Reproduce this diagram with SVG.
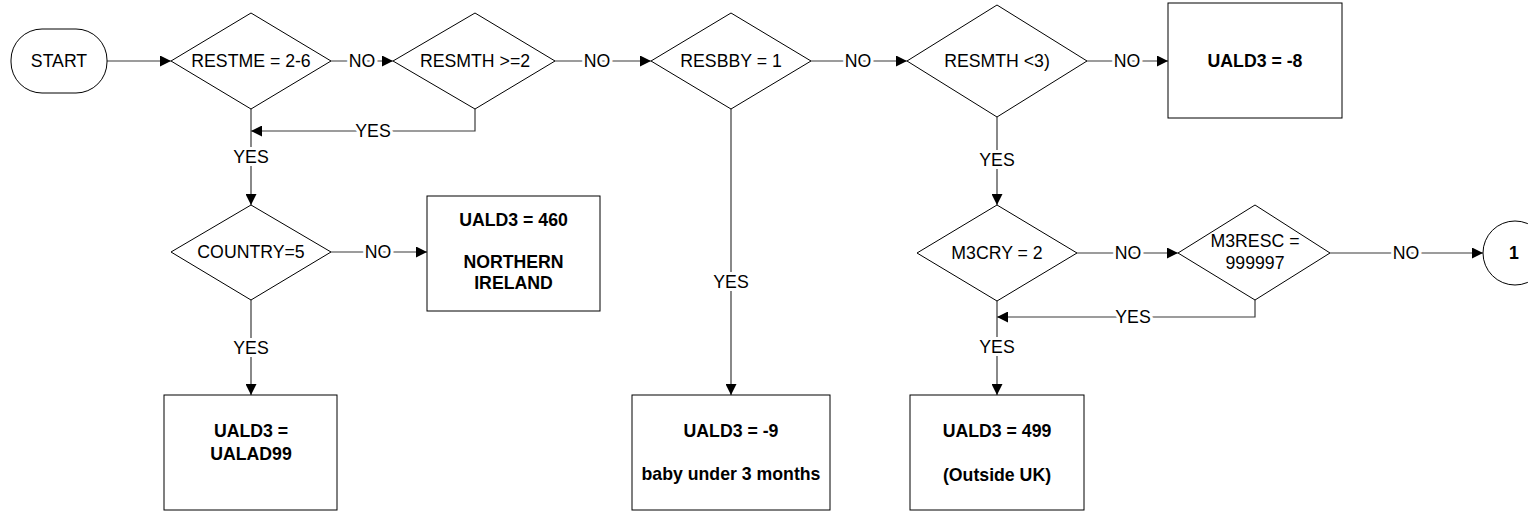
<svg xmlns="http://www.w3.org/2000/svg" width="1528" height="511" viewBox="0 0 1528 511">
<defs>
<style>
.shape{fill:#fff;stroke:#000;stroke-width:1}
.ln{fill:none;stroke:#3a3a3a;stroke-width:1.2}
.t{font-family:"Liberation Sans",Arial,sans-serif;font-size:17.7px;fill:#000;text-anchor:middle}
.b{font-weight:bold}
.lbl{font-family:"Liberation Sans",Arial,sans-serif;font-size:17.7px;fill:#000;text-anchor:middle;stroke:#fff;stroke-width:6;paint-order:stroke;stroke-linejoin:round}
</style>
<marker id="arr" viewBox="0 0 10 10" refX="10" refY="5" markerWidth="11" markerHeight="11" markerUnits="userSpaceOnUse" orient="auto">
<path d="M0,0 L10,5 L0,10 Z" fill="#000"/>
</marker>
</defs>
<rect width="1528" height="511" fill="#fff"/>

<g id="connectors">
<path class="ln" d="M107,61 H171" marker-end="url(#arr)"/>
<path class="ln" d="M331,61 H393" marker-end="url(#arr)"/>
<path class="ln" d="M555,61 H651" marker-end="url(#arr)"/>
<path class="ln" d="M811,61 H907" marker-end="url(#arr)"/>
<path class="ln" d="M1087,61 H1168" marker-end="url(#arr)"/>
<path class="ln" d="M475,109 V131 H251" marker-end="url(#arr)"/>
<path class="ln" d="M251,109 V205" marker-end="url(#arr)"/>
<path class="ln" d="M331,252 H427" marker-end="url(#arr)"/>
<path class="ln" d="M251,300 V395" marker-end="url(#arr)"/>
<path class="ln" d="M731,109 V395" marker-end="url(#arr)"/>
<path class="ln" d="M997,117 V205" marker-end="url(#arr)"/>
<path class="ln" d="M1077,253 H1178" marker-end="url(#arr)"/>
<path class="ln" d="M1330,253 H1483" marker-end="url(#arr)"/>
<path class="ln" d="M1255,300 V317 H997" marker-end="url(#arr)"/>
<path class="ln" d="M997,301 V395" marker-end="url(#arr)"/>
<text class="lbl" x="362" y="67">NO</text>
<text class="lbl" x="597" y="67">NO</text>
<text class="lbl" x="858" y="67">NO</text>
<text class="lbl" x="1127" y="67">NO</text>
<text class="lbl" x="373" y="137">YES</text>
<text class="lbl" x="251" y="163">YES</text>
<text class="lbl" x="378" y="258">NO</text>
<text class="lbl" x="251" y="354">YES</text>
<text class="lbl" x="731" y="288">YES</text>
<text class="lbl" x="997" y="166">YES</text>
<text class="lbl" x="1128" y="259">NO</text>
<text class="lbl" x="1406" y="259">NO</text>
<text class="lbl" x="1133" y="323">YES</text>
<text class="lbl" x="997" y="353">YES</text>
</g>

<g id="start">
<rect class="shape" x="11" y="29" width="96" height="64" rx="31" ry="31"/>
<text class="t" x="59" y="67">START</text>
</g>
<g id="restme">
<polygon class="shape" points="251,13 331,61 251,109 171,61"/>
<text class="t" x="251" y="67">RESTME = 2-6</text>
</g>
<g id="resmth2">
<polygon class="shape" points="475,13 555,61 475,109 393,61"/>
<text class="t" x="475" y="67">RESMTH &gt;=2</text>
</g>
<g id="resbby">
<polygon class="shape" points="731,13 811,61 731,109 651,61"/>
<text class="t" x="731" y="67">RESBBY = 1</text>
</g>
<g id="resmth3">
<polygon class="shape" points="997,5 1087,61 997,117 907,61"/>
<text class="t" x="997" y="67">RESMTH &lt;3)</text>
</g>
<g id="uald3-8">
<rect class="shape" x="1168" y="3" width="174" height="115"/>
<text class="t b" x="1255" y="67">UALD3 = -8</text>
</g>
<g id="country">
<polygon class="shape" points="251,205 331,252 251,300 171,252"/>
<text class="t" x="251" y="258">COUNTRY=5</text>
</g>
<g id="uald3-460">
<rect class="shape" x="427" y="196" width="173" height="115"/>
<text class="t b" x="513.5" y="226">UALD3 = 460</text>
<text class="t b" x="513.5" y="268">NORTHERN</text>
<text class="t b" x="513.5" y="289">IRELAND</text>
</g>
<g id="uald3-ualad99">
<rect class="shape" x="164" y="395" width="173" height="115"/>
<text class="t b" x="251" y="437">UALD3 =</text>
<text class="t b" x="251" y="460">UALAD99</text>
</g>
<g id="uald3-9">
<rect class="shape" x="632" y="395" width="198" height="115"/>
<text class="t b" x="731" y="437">UALD3 = -9</text>
<text class="t b" x="731" y="480">baby under 3 months</text>
</g>
<g id="m3cry">
<polygon class="shape" points="997,205 1077,253 997,301 917,253"/>
<text class="t" x="997" y="259">M3CRY = 2</text>
</g>
<g id="m3resc">
<polygon class="shape" points="1255,205 1330,253 1255,300 1178,253"/>
<text class="t" x="1255" y="247">M3RESC =</text>
<text class="t" x="1255" y="269">999997</text>
</g>
<g id="connector-1">
<circle class="shape" cx="1515" cy="253" r="32"/>
<text class="t b" x="1514" y="259">1</text>
</g>
<g id="uald3-499">
<rect class="shape" x="910" y="395" width="174" height="115"/>
<text class="t b" x="997" y="437">UALD3 = 499</text>
<text class="t b" x="997" y="481">(Outside UK)</text>
</g>
</svg>
